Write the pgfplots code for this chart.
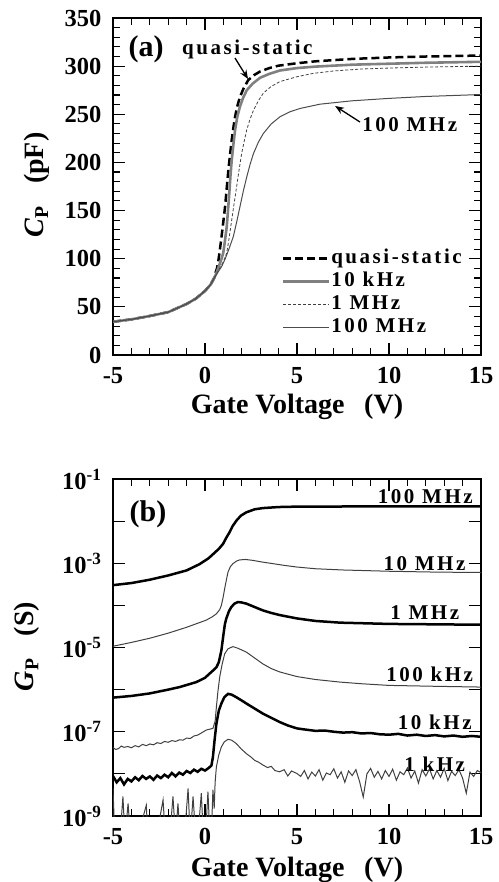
\documentclass[border=0pt]{standalone}
\usepackage{fontspec}
\setmainfont{Liberation Serif}
\newfontfamily\spacedfont[LetterSpace=12]{Liberation Serif}
\usepackage{pgfplots}
\pgfplotsset{compat=1.18}
\usetikzlibrary{arrows.meta}

\newcommand{\tickfont}{\fontsize{24.5}{26}\selectfont\bfseries}
\newcommand{\labfont}{\fontsize{28}{32}\selectfont\bfseries}
\newcommand{\annfont}{\spacedfont\fontsize{21}{24}\selectfont\bfseries}
\newcommand{\panfont}{\fontsize{30}{33}\selectfont\bfseries}

\pgfplotsset{
  cvaxis/.style={
    width=368pt, height=337pt, scale only axis,
    xmin=-5, xmax=15,
    xtick={-5,0,5,10,15}, xticklabels={-5,0,5,10,15},
    minor x tick num=4,
    tick align=inside,
    major tick length=12pt, minor tick length=7pt,
    axis line style={line width=1.3pt},
    every tick/.style={black, line width=1.1pt},
    every tick label/.style={font=\tickfont},
    xticklabel style={yshift=-9pt},
    yticklabel style={xshift=-8pt},
    every axis x label/.style={at={(rel axis cs:0.5,-0.155)}, anchor=center, font=\labfont},
    clip=true,
  },
}

\begin{document}
\begin{tikzpicture}
\useasboundingbox (0,0) rectangle (498pt,882pt);

% ---------------- (a) capacitance
\begin{axis}[
  cvaxis,
  at={(113pt,527pt)}, anchor=south west,
  ymin=0, ymax=350,
  ytick={0,50,...,350}, yticklabels={0,50,100,150,200,250,300,350},
  minor y tick num=4,
  xlabel={Gate Voltage\hspace{0.7em}(V)},
  ylabel={\textit{C}\textsubscript{P}\hspace{0.8em}(pF)},
  every axis y label/.style={at={(rel axis cs:-0.206,0.504)}, rotate=90, anchor=center, font=\labfont},
  legend style={at={(rel axis cs:0.459,0.322)}, anchor=north west, draw=none, fill=none,
    inner sep=0pt, font=\annfont, row sep=0pt,
    nodes={inner sep=0.6pt, text height=16pt, text depth=6pt}},
  legend cell align=left,
  legend image code/.code={\draw[#1] (0pt,0pt) -- (46pt,0pt);},
]
\addplot[black, line width=2.5pt, dash pattern=on 8pt off 4pt] coordinates {
(-5,34.5) (-4,37) (-3,40.5) (-2,44.5) (-1,53) (-0.5,58.5) (0,66.5) (0.3,73) (0.5,80)
(0.55,84) (0.65,90) (0.72,97) (0.8,108) (0.9,123) (1.0,139) (1.09,154) (1.18,173)
(1.27,192) (1.36,208) (1.45,223) (1.55,237) (1.63,247) (1.75,258) (1.9,268) (2.1,277)
(2.35,285.5) (2.65,290.5) (3.0,294.5) (3.5,298) (4.0,300.5) (5,303) (6,305) (8,307.5)
(10,309) (12,310) (15,311)
};
\addlegendentry{quasi-static}
\addplot[black!50, line width=2.6pt] coordinates {
(-5,34.5) (-4,37) (-3,40.5) (-2,44.5) (-1,53) (-0.5,58.5) (0,66.5) (0.3,73) (0.5,80)
(0.6,84) (0.75,92) (0.9,100) (0.99,106) (1.08,118) (1.18,133) (1.25,150) (1.32,168)
(1.38,185) (1.45,202) (1.54,218) (1.63,233) (1.75,247) (1.9,258) (2.07,267) (2.27,275)
(2.6,282) (3.0,288) (3.5,292) (4.08,295.5) (5,298) (6,299.5) (8,301.5) (10,302.5)
(12,303.5) (15,304.5)
};
\addlegendentry{10 kHz}
\addplot[black!75, line width=0.8pt, dash pattern=on 3pt off 2pt] coordinates {
(-5,34.5) (-4,37) (-3,40.5) (-2,44.5) (-1,53) (-0.5,58.5) (0,66.5) (0.3,73) (0.5,80)
(0.6,83) (0.8,90) (1.0,97) (1.18,106) (1.3,120) (1.45,140) (1.58,157) (1.72,175)
(1.85,192) (1.99,209) (2.13,222) (2.27,234) (2.45,245) (2.63,254) (2.9,264) (3.17,272)
(3.6,279) (4.08,284) (5,289) (5.89,292.5) (7,295) (8.5,297) (10,298) (12,299) (15,300)
};
\addlegendentry{1 MHz}
\addplot[black!70, line width=1pt] coordinates {
(-5,34.5) (-4,37) (-3,40.5) (-2,44.5) (-1,53) (-0.5,58.5) (0,66.5) (0.3,73) (0.5,80)
(0.6,83) (0.9,91.7) (1.1,100) (1.3,110) (1.54,123) (1.72,138) (1.9,154) (2.08,170)
(2.27,185) (2.45,198) (2.63,209) (2.9,221) (3.17,230) (3.6,240) (4.08,247.5)
(4.6,252.5) (5.16,256) (6.25,260.5) (7,262) (8,264) (10,266.5) (12,268.5) (15,270.5)
};
\addlegendentry{100 MHz}
% annotations
\node[font=\panfont, anchor=base] at (rel axis cs:0.0897,0.887) {(a)};
\node[font=\annfont, anchor=base west, inner sep=0pt] at (rel axis cs:0.1875,0.893) {quasi-static};
\draw[-{Stealth[length=9pt,width=7pt]}, line width=1.3pt] (axis cs:1.63,308.4) -- (axis cs:2.34,286.6);
\node[font=\annfont, anchor=base west, inner sep=0pt] at (rel axis cs:0.677,0.662) {100 MHz};
\draw[-{Stealth[length=9pt,width=7pt]}, line width=1.3pt] (axis cs:8.42,242) -- (axis cs:7.07,258.6);
\end{axis}

% ---------------- (b) conductance
\begin{axis}[
  cvaxis,
  at={(113pt,66pt)}, anchor=south west,
  ymode=log, ymin=1e-9, ymax=1e-1,
  ytick={1e-9,1e-8,1e-7,1e-6,1e-5,1e-4,1e-3,1e-2,1e-1},
  yticklabels={10\textsuperscript{-9},,10\textsuperscript{-7},,10\textsuperscript{-5},,10\textsuperscript{-3},,10\textsuperscript{-1}},
  yminorticks=false,
  every axis x label/.style={at={(rel axis cs:0.5,-0.16)}, anchor=center, font=\labfont},
  xlabel={Gate Voltage\hspace{0.7em}(V)},
  ylabel={\textit{G}\textsubscript{P}\hspace{0.8em}(S)},
  every axis y label/.style={at={(rel axis cs:-0.233,0.503)}, rotate=90, anchor=center, font=\labfont},
]
% 100 MHz
\addplot[black, line width=2.5pt] coordinates {
(-5,3.02e-4) (-4,3.39e-4) (-3,4.07e-4) (-2,5.13e-4) (-1,6.76e-4) (-0.29,9.55e-4)
(0.2,1.32e-3) (0.5,1.74e-3) (0.75,2.19e-3) (0.98,2.88e-3) (1.15,3.98e-3) (1.34,5.50e-3)
(1.5,7.59e-3) (1.7,1.02e-2) (1.95,1.35e-2) (2.25,1.62e-2) (2.7,1.91e-2) (3.15,2.04e-2)
(4,2.16e-2) (5,2.21e-2) (10,2.24e-2) (15,2.24e-2)
};
% 10 MHz
\addplot[black!75, line width=1pt] coordinates {
(-5,1.07e-5) (-4,1.32e-5) (-3,1.66e-5) (-2,2.19e-5) (-1,3.02e-5) (0.07,4.47e-5)
(0.4,5.37e-5) (0.62,6.31e-5) (0.8,7.94e-5) (0.89,1.0e-4) (0.98,1.51e-4) (1.07,2.51e-4)
(1.16,3.98e-4) (1.25,6.17e-4) (1.38,8.32e-4) (1.52,9.77e-4) (1.7,1.12e-3) (1.88,1.20e-3)
(2.2,1.23e-3) (2.6,1.17e-3) (3.1,1.07e-3) (3.7,9.77e-4) (4.3,8.91e-4) (5,8.13e-4)
(6,7.41e-4) (7.5,6.92e-4) (10,6.46e-4) (12.5,6.17e-4) (15,6.03e-4)
};
% 1 MHz
\addplot[black, line width=2.5pt] coordinates {
(-5,6.46e-7) (-4,7.08e-7) (-3,8.13e-7) (-2,1.0e-6) (-1.38,1.15e-6) (-0.47,1.51e-6)
(0,1.91e-6) (0.25,2.40e-6) (0.45,2.88e-6) (0.62,3.39e-6) (0.75,4.47e-6) (0.89,8.51e-6)
(1.0,2.0e-5) (1.08,3.55e-5) (1.16,4.90e-5) (1.3,7.24e-5) (1.43,9.12e-5) (1.6,1.10e-4)
(1.79,1.20e-4) (2.0,1.17e-4) (2.25,1.10e-4) (2.7,9.12e-5) (3.15,7.59e-5) (3.6,6.61e-5)
(4.06,5.89e-5) (5,4.90e-5) (6,4.27e-5) (7.34,3.89e-5) (10,3.63e-5) (12.5,3.55e-5)
(15,3.47e-5)
};
% 100 kHz
\addplot[black!75, line width=1pt] coordinates {
(-5,4.17e-8) (-4.85,3.80e-8) (-4.7,3.98e-8) (-4.55,4.57e-8) (-4.4,4.27e-8) (-4.2,4.47e-8)
(-4,4.17e-8) (-3.8,4.68e-8) (-3.6,4.37e-8) (-3.4,5.01e-8) (-3.19,4.68e-8) (-3.0,5.13e-8)
(-2.8,4.90e-8) (-2.6,5.50e-8) (-2.4,5.25e-8) (-2.2,5.89e-8) (-2,5.62e-8) (-1.8,6.17e-8)
(-1.6,5.89e-8) (-1.38,6.46e-8) (-1.2,6.31e-8) (-1,7.08e-8) (-0.8,6.92e-8) (-0.6,7.94e-8)
(-0.4,8.32e-8) (-0.2,9.33e-8) (0.07,1.10e-7) (0.43,1.20e-7) (0.55,1.78e-7) (0.62,3.89e-7)
(0.7,8.91e-7) (0.8,2.0e-6) (0.93,3.98e-6) (1.07,7.08e-6) (1.25,9.33e-6) (1.52,1.05e-5)
(1.8,9.55e-6) (2.25,7.76e-6) (2.7,5.62e-6) (3.15,4.07e-6) (3.6,3.16e-6) (4.06,2.63e-6)
(5,2.04e-6) (6,1.74e-6) (7.34,1.51e-6) (8.5,1.38e-6) (10,1.26e-6) (12.5,1.20e-6)
(15,1.15e-6)
};
% 10 kHz
\addplot[black, line width=2.5pt] coordinates {
(-5,8.91e-9) (-4.8,6.31e-9) (-4.6,7.94e-9) (-4.4,5.62e-9) (-4.2,7.59e-9) (-4.0,6.61e-9)
(-3.8,8.32e-9) (-3.6,7.08e-9) (-3.4,8.91e-9) (-3.2,7.59e-9) (-3.0,8.71e-9) (-2.8,7.24e-9)
(-2.6,9.12e-9) (-2.4,7.94e-9) (-2.2,9.55e-9) (-2.0,8.32e-9) (-1.8,1.05e-8) (-1.6,8.71e-9)
(-1.4,1.07e-8) (-1.2,9.55e-9) (-1.0,1.17e-8) (-0.8,1.05e-8) (-0.6,1.26e-8) (-0.4,1.12e-8)
(-0.2,1.32e-8) (0,1.20e-8) (0.2,1.38e-8) (0.35,1.58e-8) (0.43,2.51e-8) (0.52,6.31e-8)
(0.62,1.55e-7) (0.75,3.16e-7) (0.89,4.68e-7) (1.05,6.61e-7) (1.25,7.94e-7) (1.45,7.59e-7)
(1.7,6.61e-7) (2.0,5.50e-7) (2.25,4.68e-7) (2.7,3.55e-7) (3.15,2.69e-7) (3.6,2.14e-7)
(4.06,1.70e-7) (4.5,1.41e-7) (5,1.20e-7) (5.5,1.12e-7) (6,1.05e-7) (6.5,1.07e-7)
(7,1.0e-7) (7.5,9.55e-8) (8,9.77e-8) (8.5,9.12e-8) (9,9.33e-8) (9.5,8.71e-8)
(10,8.51e-8) (10.5,8.91e-8) (11,8.13e-8) (11.5,8.51e-8) (12,7.94e-8) (12.5,8.32e-8)
(13,7.76e-8) (13.5,8.13e-8) (14,7.59e-8) (14.5,7.94e-8) (15,7.59e-8)
};
% 1 kHz
\addplot[black!75, line width=1pt] coordinates {
(-5.0,4.5e-9) (-4.9,3e-10) (-4.6,4e-10) (-4.46,2.9e-9) (-4.35,3e-10) (-4.18,2.0e-9)
(-4.05,3e-10) (-3.6,4e-10) (-3.19,1.8e-9) (-3.1,3e-10) (-2.6,4e-10) (-2.28,2.4e-9)
(-2.15,3e-10) (-1.9,4e-10) (-1.74,2.9e-9) (-1.6,3e-10) (-1.47,2.0e-9) (-1.35,3e-10)
(-1.1,4e-10) (-0.92,4.5e-9) (-0.8,3e-10) (-0.65,2.9e-9) (-0.5,3e-10) (-0.35,5e-10)
(-0.2,3.5e-9) (-0.1,4e-10) (0.05,5e-10) (0.16,3.8e-9) (0.25,5e-10) (0.35,4e-10)
(0.43,4.2e-9) (0.5,1.5e-9) (0.55,6.31e-9) (0.62,1.48e-8) (0.75,2.82e-8) (0.89,4.37e-8)
(1.05,5.75e-8) (1.25,6.61e-8) (1.45,6.31e-8) (1.7,5.25e-8) (1.95,3.98e-8) (2.25,3.02e-8)
(2.5,2.51e-8) (2.7,2.09e-8) (2.9,1.91e-8) (3.15,1.62e-8) (3.4,1.41e-8) (3.6,1.51e-8)
(3.8,1.20e-8) (4.06,1.12e-8) (4.3,1.26e-8) (4.5,8.91e-9) (4.7,1.17e-8)
(5.0,1.02e-8) (5.2,8.71e-9) (5.4,1.20e-8) (5.6,7.59e-9) (5.8,1.10e-8) (6.0,8.91e-9)
(6.2,1.26e-8) (6.4,7.08e-9) (6.6,1.05e-8) (6.8,9.55e-9) (7.0,1.32e-8) (7.2,7.94e-9)
(7.4,1.12e-8) (7.6,6.31e-9) (7.8,1.17e-8) (8.0,9.12e-9) (8.2,1.26e-8) (8.4,6.61e-9)
(8.6,2.82e-9) (8.8,1.0e-8) (9.0,1.35e-8) (9.2,8.32e-9) (9.4,1.15e-8) (9.6,7.59e-9)
(9.8,1.20e-8) (10.0,8.71e-9) (10.2,1.29e-8) (10.4,7.08e-9) (10.6,1.12e-8) (10.8,9.55e-9)
(11.0,1.38e-8) (11.2,7.94e-9) (11.4,1.17e-8) (11.6,6.03e-9) (11.8,1.26e-8) (12.0,8.91e-9)
(12.2,1.32e-8) (12.4,7.59e-9) (12.6,1.20e-8) (12.8,8.32e-9) (13.0,1.35e-8) (13.2,6.92e-9)
(13.4,1.15e-8) (13.6,9.12e-9) (13.8,1.26e-8) (14.0,7.94e-9) (14.2,3.47e-9) (14.4,1.10e-8)
(14.6,8.71e-9) (14.8,1.20e-8) (15.0,1.07e-8)
};
% curve labels
\node[font=\panfont, anchor=base] at (rel axis cs:0.095,0.873) {(b)};
\node[font=\annfont, anchor=base east, inner sep=0pt] at (rel axis cs:0.978,0.926) {100 MHz};
\node[font=\annfont, anchor=base east, inner sep=0pt] at (rel axis cs:0.958,0.729) {10 MHz};
\node[font=\annfont, anchor=base east, inner sep=0pt] at (rel axis cs:0.941,0.584) {1 MHz};
\node[font=\annfont, anchor=base east, inner sep=0pt] at (rel axis cs:0.979,0.400) {100 kHz};
\node[font=\annfont, anchor=base east, inner sep=0pt] at (rel axis cs:0.975,0.2565) {10 kHz};
\node[font=\annfont, anchor=base east, inner sep=0pt] at (rel axis cs:0.957,0.131) {1 kHz};
\end{axis}
\end{tikzpicture}
\end{document}
